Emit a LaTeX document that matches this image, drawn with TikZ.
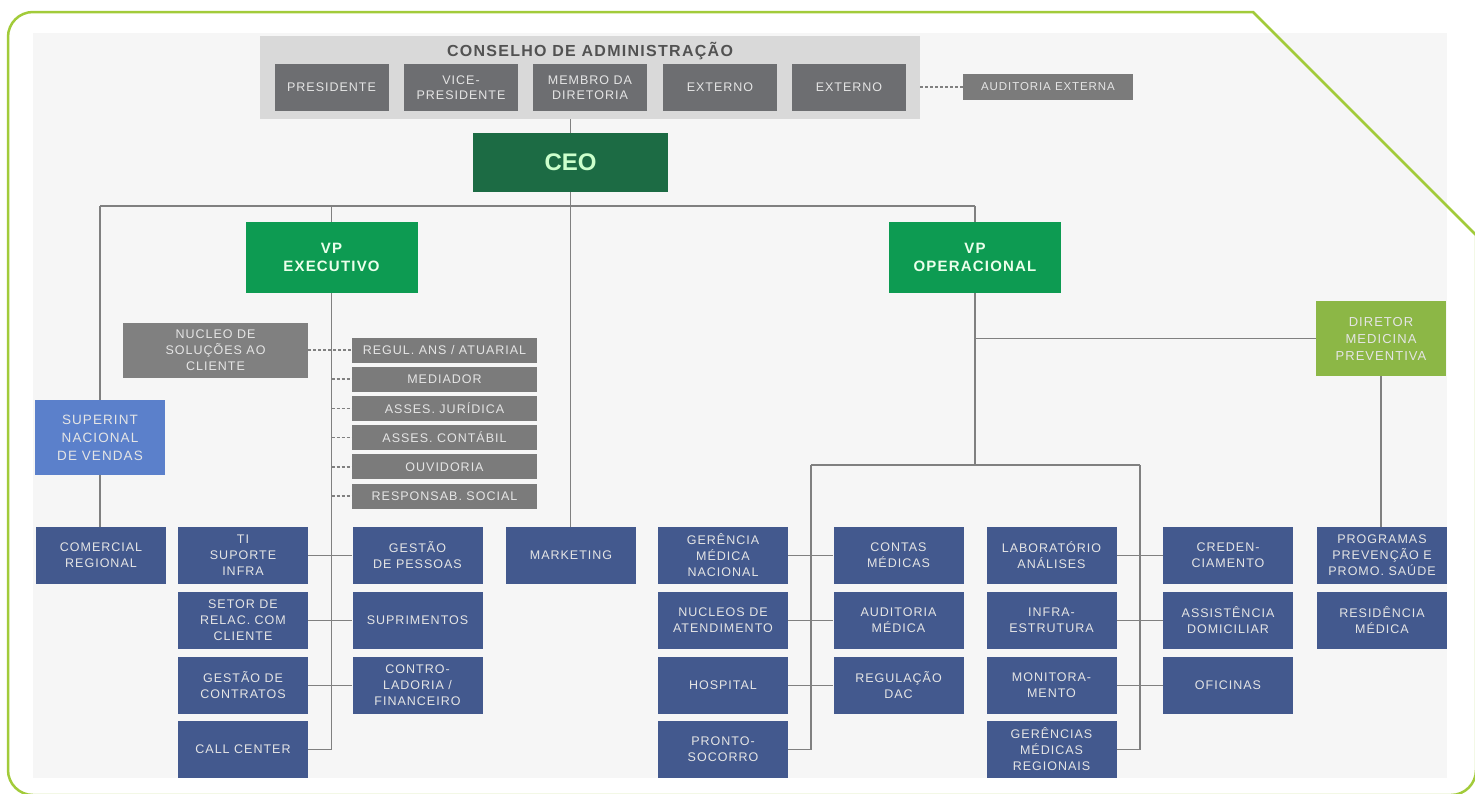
\documentclass[tikz,border=0pt]{standalone}
\usepackage{fontspec}
\setmainfont{Liberation Sans}
\newfontfamily\orgfont[LetterSpace=8]{Liberation Sans}
\usetikzlibrary{backgrounds}

\definecolor{framegreen}{HTML}{A2CB3A}
\definecolor{panelgray}{HTML}{F6F6F6}
\definecolor{boardgray}{HTML}{D9D9D9}
\definecolor{darkgray}{HTML}{6D6E71}
\definecolor{midgray}{HTML}{7B7B7B}
\definecolor{linegray}{HTML}{808080}
\definecolor{ceogreen}{HTML}{1C6B44}
\definecolor{vpgreen}{HTML}{0D9B52}
\definecolor{dirgreen}{HTML}{8CB746}
\definecolor{salesblue}{HTML}{5B80CB}
\definecolor{unitblue}{HTML}{43598E}

\tikzset{
  unit/.style={rectangle, inner sep=1pt, align=center,
    font=\orgfont\fontsize{12.5}{16}\selectfont, text=white!90!black},
  bluebox/.style={unit, fill=unitblue, minimum width=130pt, minimum height=57pt},
  board/.style={unit, fill=darkgray, minimum width=114pt, minimum height=47pt,
    font=\orgfont\fontsize{12.5}{15}\selectfont},
  staffbox/.style={unit, fill=midgray, minimum width=185pt, minimum height=25pt},
  vpbox/.style={unit, fill=vpgreen, minimum width=172pt, minimum height=71pt,
    font=\orgfont\bfseries\fontsize{15}{18}\selectfont, text=green!8!white},
  link/.style={draw=linegray, line width=1.6pt},
  dlink/.style={link, dash pattern=on 3pt off 2pt}
}

\begin{document}
\begin{tikzpicture}[x=1pt,y=-1pt]
\useasboundingbox (0,0) rectangle (1475,793);

% frame and panel
\draw[framegreen, line width=2.5pt] (8,770) -- (8,37)
  arc[start angle=180, end angle=270, radius=25] -- (1253,12) -- (1476,235) -- (1476,770)
  arc[start angle=0, end angle=90, radius=25] -- (33,795)
  arc[start angle=90, end angle=180, radius=25] -- cycle;
\begin{pgfonlayer}{background}
\fill[panelgray] (33,33) rectangle (1447,778);
\end{pgfonlayer}

% board
\node[fill=boardgray, minimum width=660pt, minimum height=83pt, inner sep=0pt] (conselho) at (590,77.5) {};
\node[font=\orgfont\bfseries\fontsize{16}{18}\selectfont, text=black!68] (title) at (590,51) {CONSELHO DE ADMINISTRAÇÃO};
\node[board] (pres) at (331.5,87.5) {PRESIDENTE};
\node[board] (vice) at (461,87.5) {VICE-\\PRESIDENTE};
\node[board] (memb) at (590,87.5) {MEMBRO DA\\DIRETORIA};
\node[board] (ext1) at (720,87.5) {EXTERNO};
\node[board] (ext2) at (849,87.5) {EXTERNO};
\node[unit, fill=midgray, minimum width=170pt, minimum height=26pt,
  font=\orgfont\fontsize{11.5}{14}\selectfont] (audext) at (1048,87) {AUDITORIA EXTERNA};

% top levels
\node[unit, fill=ceogreen, minimum width=195pt, minimum height=59pt,
  font=\bfseries\fontsize{24}{28}\selectfont, text=green!20!white] (ceo) at (570.5,162.5) {CEO};
\node[vpbox] (vpexe) at (331.5,257.5) {VP\\EXECUTIVO};
\node[vpbox] (vpope) at (975,257.5) {VP\\OPERACIONAL};
\node[unit, fill=dirgreen, minimum width=130pt, minimum height=75pt,
  font=\orgfont\fontsize{13}{17}\selectfont] (dirmed) at (1381,338.5) {DIRETOR\\MEDICINA\\PREVENTIVA};
\node[unit, fill=salesblue, minimum width=130pt, minimum height=75pt,
  font=\orgfont\fontsize{13.5}{18}\selectfont] (superint) at (100,437.5) {SUPERINT\\NACIONAL\\DE VENDAS};

% staff of VP executivo
\node[unit, fill=linegray, minimum width=185pt, minimum height=55pt] (nucleo) at (215.5,350) {NUCLEO DE\\SOLUÇÕES AO\\CLIENTE};
\foreach \t [count=\i from 0] in {REGUL. ANS / ATUARIAL, MEDIADOR, ASSES. JURÍDICA,
  ASSES. CONTÁBIL, OUVIDORIA, RESPONSAB. SOCIAL}
  \node[staffbox] (st\i) at (444.5,{350+29.2*\i}) {\t};

% units
\node[bluebox] (comreg) at (101,555.5) {COMERCIAL\\REGIONAL};
\node[bluebox] (ti) at (243,555.5) {TI\\SUPORTE\\INFRA};
\node[bluebox] (setor) at (243,620.5) {SETOR DE\\RELAC. COM\\CLIENTE};
\node[bluebox] (gcont) at (243,685.5) {GESTÃO DE\\CONTRATOS};
\node[bluebox] (call) at (243,749.5) {CALL CENTER};
\node[bluebox] (gpes) at (417.5,555.5) {GESTÃO\\DE PESSOAS};
\node[bluebox] (supr) at (417.5,620.5) {SUPRIMENTOS};
\node[bluebox] (contr) at (417.5,685.5) {CONTRO-\\LADORIA /\\FINANCEIRO};
\node[bluebox] (mkt) at (571,555.5) {MARKETING};
\node[bluebox] (gmn) at (723,555.5) {GERÊNCIA\\MÉDICA\\NACIONAL};
\node[bluebox] (nat) at (723,620.5) {NUCLEOS DE\\ATENDIMENTO};
\node[bluebox] (hosp) at (723,685.5) {HOSPITAL};
\node[bluebox] (ps) at (723,749.5) {PRONTO-\\SOCORRO};
\node[bluebox] (cmed) at (898.5,555.5) {CONTAS\\MÉDICAS};
\node[bluebox] (amed) at (898.5,620.5) {AUDITORIA\\MÉDICA};
\node[bluebox] (rdac) at (898.5,685.5) {REGULAÇÃO\\DAC};
\node[bluebox] (lab) at (1051.5,555.5) {LABORATÓRIO\\ANÁLISES};
\node[bluebox] (infra) at (1051.5,620.5) {INFRA-\\ESTRUTURA};
\node[bluebox] (monit) at (1051.5,685.5) {MONITORA-\\MENTO};
\node[bluebox] (gmr) at (1051.5,749.5) {GERÊNCIAS\\MÉDICAS\\REGIONAIS};
\node[bluebox] (cred) at (1228,555.5) {CREDEN-\\CIAMENTO};
\node[bluebox] (adom) at (1228,620.5) {ASSISTÊNCIA\\DOMICILIAR};
\node[bluebox] (ofic) at (1228,685.5) {OFICINAS};
\node[bluebox] (prog) at (1382,555.5) {PROGRAMAS\\PREVENÇÃO E\\PROMO. SAÚDE};
\node[bluebox] (resid) at (1382,620.5) {RESIDÊNCIA\\MÉDICA};

\coordinate (topL) at (100,206);
\coordinate (topR) at (975,206);
\coordinate (busL) at (811,465);
\coordinate (busR) at (1140,465);

% connectors
\begin{pgfonlayer}{background}
\draw[dlink] (conselho.east |- audext.west) -- (audext.west);
\draw[link] (ceo.north |- conselho.south) -- (ceo.north);
\draw[link] (ceo.south) -- (ceo.south |- mkt.north);
\draw[link] (topL) -- (topR);
\draw[link] (topL) -- (topL |- comreg.north);
\draw[link] (vpexe.north |- topL) -- (vpexe.north);
\draw[link] (vpope.north |- topL) -- (vpope.north);
% VP executivo
\draw[link] (vpexe.south) -- (vpexe.south |- call.east) -- (call.east);
\draw[dlink] (nucleo.east) -- (st0.west);
\foreach \i in {1,...,5}
  \draw[dlink] (vpexe.south |- st\i.west) -- (st\i.west);
\draw[link] (ti.east) -- (gpes.west);
\draw[link] (setor.east) -- (supr.west);
\draw[link] (gcont.east) -- (contr.west);
% VP operacional
\draw[link] (vpope.south) -- (vpope.south |- busL);
\draw[link] (vpope.south |- dirmed.west) -- (dirmed.west);
\draw[link] (dirmed.south) -- (dirmed.south |- prog.north);
\draw[link] (busL) -- (busR);
\draw[link] (busL) -- (busL |- ps.east) -- (ps.east);
\draw[link] (busR) -- (busR |- gmr.east) -- (gmr.east);
\draw[link] (gmn.east) -- (cmed.west);
\draw[link] (nat.east) -- (amed.west);
\draw[link] (hosp.east) -- (rdac.west);
\draw[link] (lab.east) -- (cred.west);
\draw[link] (infra.east) -- (adom.west);
\draw[link] (monit.east) -- (ofic.west);
\end{pgfonlayer}
\end{tikzpicture}
\end{document}
